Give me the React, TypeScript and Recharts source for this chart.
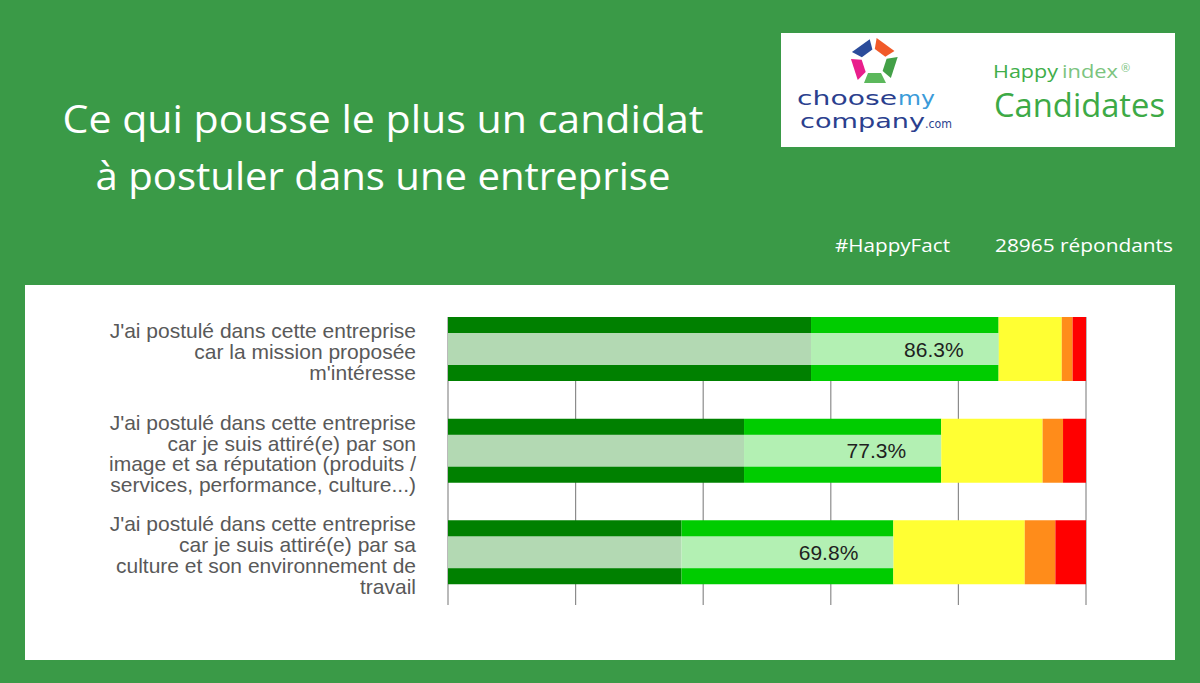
// Happy Index Candidates: reasons that push a candidate to apply (stacked 100% bars).

import { Bar, BarChart, CartesianGrid, LabelList, XAxis, YAxis } from "recharts";

const statements = [
  ["J'ai postulé dans cette entreprise", "car la mission proposée", "m'intéresse"],
  [
    "J'ai postulé dans cette entreprise",
    "car je suis attiré(e) par son",
    "image et sa réputation (produits /",
    "services, performance, culture...)",
  ],
  [
    "J'ai postulé dans cette entreprise",
    "car je suis attiré(e) par sa",
    "culture et son environnement de",
    "travail",
  ],
];

// share of answers per level, in %
const toutAFait = [56.9, 46.4, 36.6];
const plutotOui = [29.4, 30.9, 33.2];
const plutotNon = [9.9, 15.9, 20.6];
const pasVraiment = [1.7, 3.2, 4.8];
const pasDuTout = [2.1, 3.6, 4.8];
const positiveShare = [86.3, 77.3, 69.8];

const xTicks = [0, 20, 40, 60, 80, 100];

const levels = [
  { key: "toutAFait", color: "#008000" },
  { key: "plutotOui", color: "#00cc00" },
  { key: "plutotNon", color: "#ffff33" },
  { key: "pasVraiment", color: "#ff8c1a" },
  { key: "pasDuTout", color: "#ff0000" },
];

const chartData = statements.map((lines, i) => ({
  name: lines.join(" "),
  toutAFait: toutAFait[i],
  plutotOui: plutotOui[i],
  plutotNon: plutotNon[i],
  pasVraiment: pasVraiment[i],
  pasDuTout: pasDuTout[i],
  positive: positiveShare[i],
}));

const ARIAL = "'Liberation Sans', Arial, sans-serif";

function StatementTick(props: any) {
  const { x, y, payload } = props;
  const lines = statements[payload.index] ?? [];
  const lineHeight = 20.7;
  const top = y - ((lines.length - 1) * lineHeight) / 2 + 3;
  return (
    <text textAnchor="end" fill="#595959" fontSize={21} fontFamily={ARIAL}>
      {lines.map((line, i) => (
        <tspan key={i} x={x} y={top + i * lineHeight} dy="0.35em">
          {line}
        </tspan>
      ))}
    </text>
  );
}

function ShareLabel(props: any) {
  const { x, y, width, height, value } = props;
  return (
    <text
      x={Number(x) + Number(width) - 35}
      y={Number(y) + Number(height) / 2}
      dy="0.36em"
      textAnchor="end"
      fontSize={21}
      fill="#1f1f1f"
      fontFamily={ARIAL}
    >
      {Number(value).toFixed(1)}%
    </text>
  );
}

function GridLine(props: any) {
  const { x1, x2, y1, y2 } = props;
  return <line x1={x1} x2={x2} y1={y1 + 19} y2={y2 + 2} stroke="#8c8c8c" strokeWidth={1.2} />;
}

function StarLogo() {
  const pieces = ["#2b4c9b", "#f15a29", "#43a047", "#5cb85c", "#e91e8c"];
  return (
    <g transform="translate(93 29)">
      {pieces.map((color, i) => (
        <polygon
          key={color + i}
          points="-12,-21 10,-21 6,-11 -7,-11"
          fill={color}
          transform={`rotate(${-36 + i * 72})`}
        />
      ))}
    </g>
  );
}

export default function App() {
  return (
    <div
      style={{
        position: "absolute",
        left: 0,
        top: 0,
        width: 1200,
        height: 683,
        background: "#3a9a47",
        overflow: "hidden",
      }}
    >
      <svg width={1200} height={283} style={{ position: "absolute", left: 0, top: 0 }}>
        <g fill="#ffffff" fontFamily="'Open Sans', sans-serif" fontSize={39}>
          <text x={383} y={133} textAnchor="middle" textLength={641} lengthAdjust="spacingAndGlyphs">
            Ce qui pousse le plus un candidat
          </text>
          <text x={383} y={190} textAnchor="middle" textLength={575} lengthAdjust="spacingAndGlyphs">
            à postuler dans une entreprise
          </text>
        </g>
        <g fill="#ffffff" fontFamily="'Open Sans', sans-serif" fontSize={19}>
          <text x={835} y={252} textLength={115} lengthAdjust="spacingAndGlyphs">
            #HappyFact
          </text>
          <text x={995} y={252} textLength={178} lengthAdjust="spacingAndGlyphs">
            28965 répondants
          </text>
        </g>
      </svg>

      <div
        style={{
          position: "absolute",
          left: 781,
          top: 33,
          width: 394,
          height: 114,
          background: "#ffffff",
        }}
      >
        <svg width={394} height={114}>
          <StarLogo />
          <text fontFamily="'DejaVu Sans', sans-serif" fontSize={19} fill="#2b3f8e">
            <tspan x={16} y={72} textLength={100} lengthAdjust="spacingAndGlyphs">
              choose
            </tspan>
            <tspan x={117} y={72} fill="#3a9bd9" textLength={37} lengthAdjust="spacingAndGlyphs">
              my
            </tspan>
          </text>
          <text fontFamily="'DejaVu Sans', sans-serif" fontSize={19} fill="#2b3f8e">
            <tspan x={19} y={95} textLength={125} lengthAdjust="spacingAndGlyphs">
              company
            </tspan>
            <tspan x={144} y={95} fontSize={13} textLength={27} lengthAdjust="spacingAndGlyphs">
              .com
            </tspan>
          </text>
          <text x={212} y={45} fontFamily="'Open Sans', sans-serif" fontSize={19} fill="#3fae49" textLength={65} lengthAdjust="spacingAndGlyphs">
            Happy
          </text>
          <text x={281} y={45} fontFamily="'Open Sans', sans-serif" fontSize={19} fill="#7cc47f" textLength={56} lengthAdjust="spacingAndGlyphs">
            index
          </text>
          <text x={340} y={39} fontFamily="'Open Sans', sans-serif" fontSize={11} fill="#7cc47f">
            ®
          </text>
          <text x={213} y={84} fontFamily="'Open Sans', sans-serif" fontSize={32} fill="#3daa46" textLength={171} lengthAdjust="spacingAndGlyphs">
            Candidates
          </text>
        </svg>
      </div>

      <div
        style={{
          position: "absolute",
          left: 25,
          top: 285,
          width: 1150,
          height: 375,
          background: "#ffffff",
        }}
      >
        <BarChart
          width={1150}
          height={375}
          data={chartData}
          layout="vertical"
          margin={{ top: 13, right: 89, bottom: 57, left: 0 }}
        >
          <CartesianGrid horizontal={false} vertical={GridLine} />
          <XAxis type="number" domain={[0, 100]} ticks={xTicks} hide />
          <YAxis
            yAxisId="main"
            type="category"
            dataKey="name"
            width={423}
            axisLine={false}
            tickLine={false}
            tickSize={0}
            tickMargin={32}
            tick={StatementTick}
          />
          <YAxis yAxisId="overlay" type="category" dataKey="name" hide />
          {levels.map((level) => (
            <Bar
              key={level.key}
              yAxisId="main"
              dataKey={level.key}
              stackId="answers"
              fill={level.color}
              barSize={64}
              isAnimationActive={false}
            />
          ))}
          <Bar
            yAxisId="overlay"
            dataKey="positive"
            fill="#ffffff"
            fillOpacity={0.7}
            barSize={32}
            isAnimationActive={false}
          >
            <LabelList dataKey="positive" content={ShareLabel} />
          </Bar>
        </BarChart>
      </div>
    </div>
  );
}
